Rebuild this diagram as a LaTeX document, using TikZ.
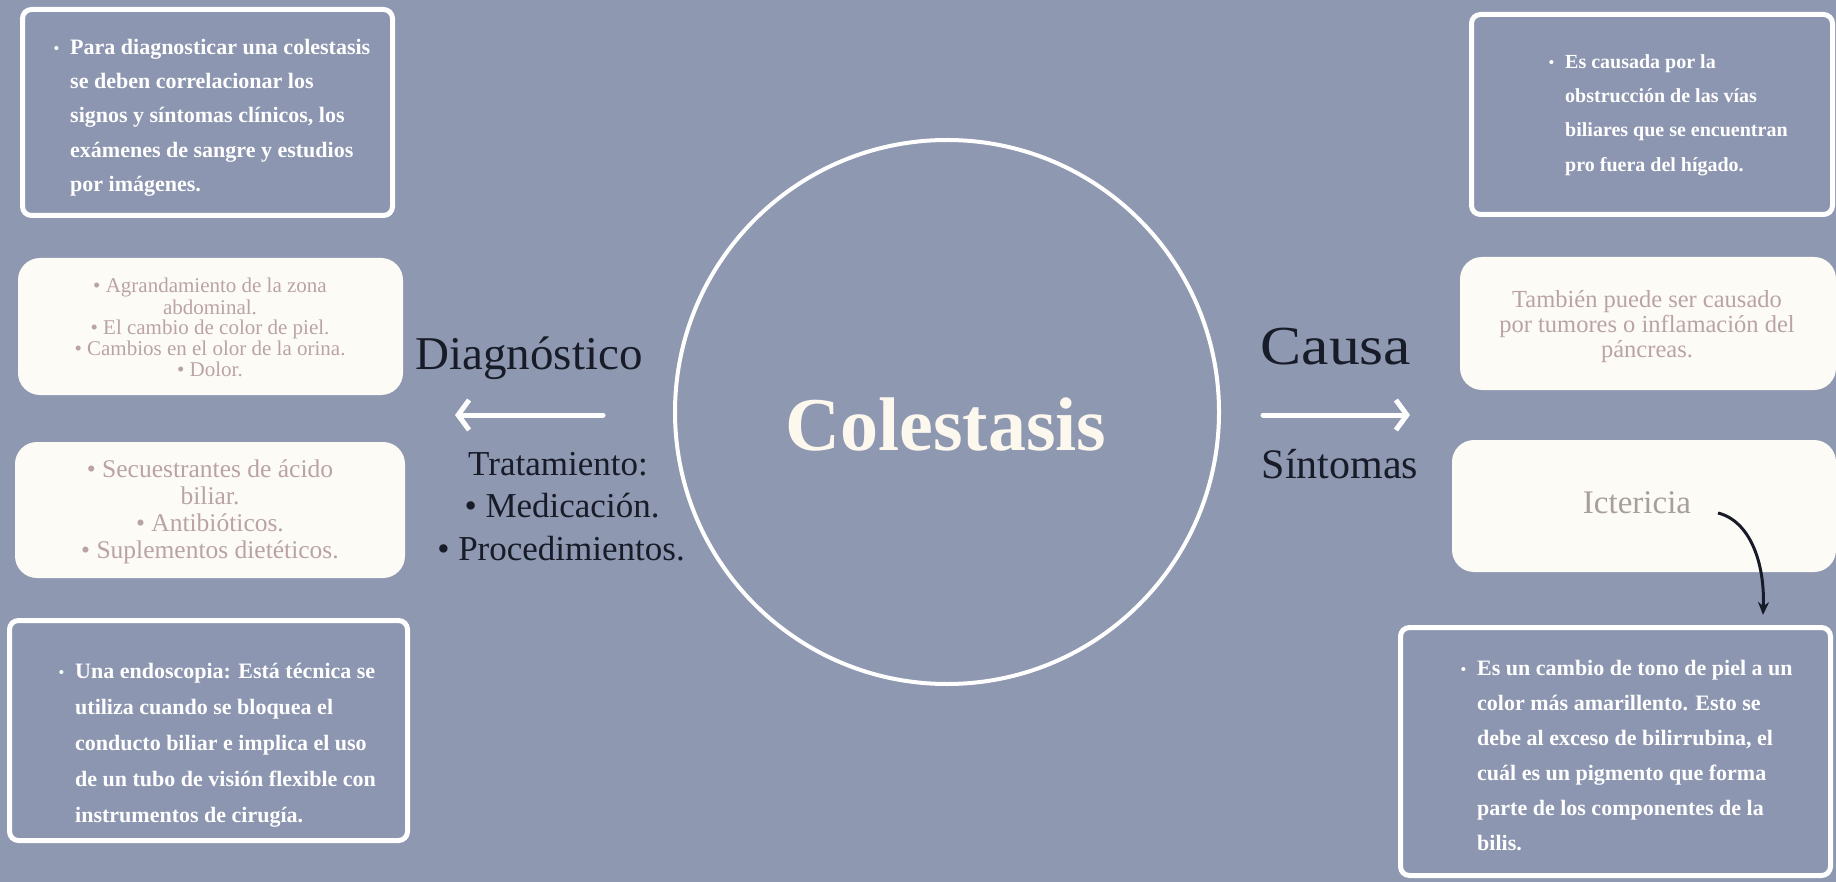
\documentclass[tikz,border=0pt]{standalone}
\usepackage{fontspec}
\setmainfont{Liberation Serif}
\usetikzlibrary{arrows.meta}
\definecolor{bgc}{RGB}{142,152,177}
\definecolor{boxbg}{RGB}{140,150,176}
\definecolor{cream}{RGB}{253,251,245}
\definecolor{mauve}{RGB}{186,163,166}
\definecolor{grayt}{RGB}{168,158,158}
\definecolor{ink}{RGB}{24,27,40}
\definecolor{titlec}{RGB}{252,248,238}
\newcommand{\fsz}[2]{\fontsize{#1}{#2}\selectfont}
\newcommand{\hbul}{\makebox[0pt][r]{\raisebox{1pt}{\fsz{15}{15}\textbullet}\hspace{11pt}}}
\begin{document}
\begin{tikzpicture}[x=1pt,y=-1pt,
  darkbox/.style={draw=white, line width=5pt, fill=boxbg, rounded corners=9pt, inner sep=0pt},
  creambox/.style={fill=cream, rounded corners=22pt, inner sep=0pt},
  whitetext/.style={text=white, inner sep=0pt, anchor=north west, align=left},
  creamtext/.style={text=mauve, inner sep=0pt, anchor=north, align=center},
  headtext/.style={text=ink, inner sep=0pt, anchor=base},
  whitearrow/.style={white, line width=5pt, line cap=round, -{Straight Barb[length=11pt,width=30pt]}}
]
\fill[bgc] (0,0) rectangle (1836,882);
\useasboundingbox (0,0) rectangle (1836,882);

% central circle
\node[circle, draw=white, line width=4pt, minimum size=544pt, inner sep=0pt] (circ) at (947,412) {};
\node[text=titlec, inner sep=0pt, anchor=base, font=\bfseries\fsz{76}{80}] (title) at (946,450) {Colestasis};

% left boxes
\node[darkbox, minimum width=370pt, minimum height=206pt] (tlbox) at (207.5,112.5) {};
\node[whitetext, font=\bfseries\fsz{22}{34.3}] (tltext) at (70,30)
  {\strut\hbul Para diagnosticar una colestasis\\
   se deben correlacionar los\\
   signos y síntomas clínicos, los\\
   exámenes de sangre y estudios\\
   por imágenes.};

\node[creambox, minimum width=385pt, minimum height=137pt] (lc1box) at (210.5,326.5) {};
\node[creamtext, font=\fsz{21}{20.8}] (lc1text) at (210,277.5)
  {\strut• Agrandamiento de la zona\\
   abdominal.\\
   • El cambio de color de piel.\\
   • Cambios en el olor de la orina.\\
   • Dolor.};

\node[creambox, minimum width=390pt, minimum height=136pt] (lc2box) at (210,510) {};
\node[creamtext, font=\fsz{25.5}{27}] (lc2text) at (210,458.1)
  {\strut• Secuestrantes de ácido\\
   biliar.\\
   • Antibióticos.\\
   • Suplementos dietéticos.};

\node[darkbox, minimum width=398pt, minimum height=220pt] (lbbox) at (208.5,730.5) {};
\node[whitetext, font=\bfseries\fsz{22}{36}] (lbtext) at (75,653)
  {\strut\hbul Una endoscopia: Está técnica se\\
   utiliza cuando se bloquea el\\
   conducto biliar e implica el uso\\
   de un tubo de visión flexible con\\
   instrumentos de cirugía.};

% left labels
\node[headtext, font=\fsz{47}{50}] (diag) at (529,370) {Diagnóstico};
\node[headtext, font=\fsz{35}{40}] (trat) at (558,475) {Tratamiento:};
\node[headtext, font=\fsz{35}{40}] (med) at (562,517) {• Medicación.};
\node[headtext, font=\fsz{35}{40}] (proc) at (561,560) {• Procedimientos.};
\coordinate (la1) at (603,415);
\coordinate (la2) at (455,415);
\draw[whitearrow] (la1) -- (la2);

% right labels
\node[headtext, font=\fsz{55}{58}] (causa) at (1336,365) {\scalebox{1.12}[1]{Causa}};
\node[headtext, font=\fsz{42}{46}] (sint) at (1340,478) {Síntomas};
\coordinate (ra1) at (1263,415);
\coordinate (ra2) at (1410,415);
\draw[whitearrow] (ra1) -- (ra2);

% right boxes
\node[darkbox, minimum width=361pt, minimum height=200pt] (rtbox) at (1652,114.5) {};
\node[whitetext, font=\bfseries\fsz{20}{34.3}] (rttext) at (1565,44)
  {\strut\hbul Es causada por la\\
   obstrucción de las vías\\
   biliares que se encuentran\\
   pro fuera del hígado.};

\node[creambox, minimum width=376pt, minimum height=133pt] (rc1box) at (1648,323.5) {};
\node[creamtext, font=\fsz{24.5}{25}] (rc1text) at (1647,289.5)
  {\strut También puede ser causado\\
   por tumores o inflamación del\\
   páncreas.};

\node[creambox, minimum width=384pt, minimum height=132pt] (rc2box) at (1644,506) {};
\node[text=grayt, inner sep=0pt, anchor=base, font=\fsz{33}{36}] (ict) at (1637,513) {Ictericia};

\node[darkbox, minimum width=430pt, minimum height=248pt] (rbbox) at (1615.5,751.5) {};
\node[whitetext, font=\bfseries\fsz{22}{35}] (rbtext) at (1477,650.5)
  {\strut\hbul Es un cambio de tono de piel a un\\
   color más amarillento. Esto se\\
   debe al exceso de bilirrubina, el\\
   cuál es un pigmento que forma\\
   parte de los componentes de la\\
   bilis.};

\coordinate (icta) at (1718,513);
\coordinate (ictb) at (1763,615);
\draw[ink, line width=3pt, -{Stealth[length=13pt,width=11pt]}] (icta) .. controls +(32,8) and +(2,-52) .. (ictb);
\end{tikzpicture}
\end{document}
